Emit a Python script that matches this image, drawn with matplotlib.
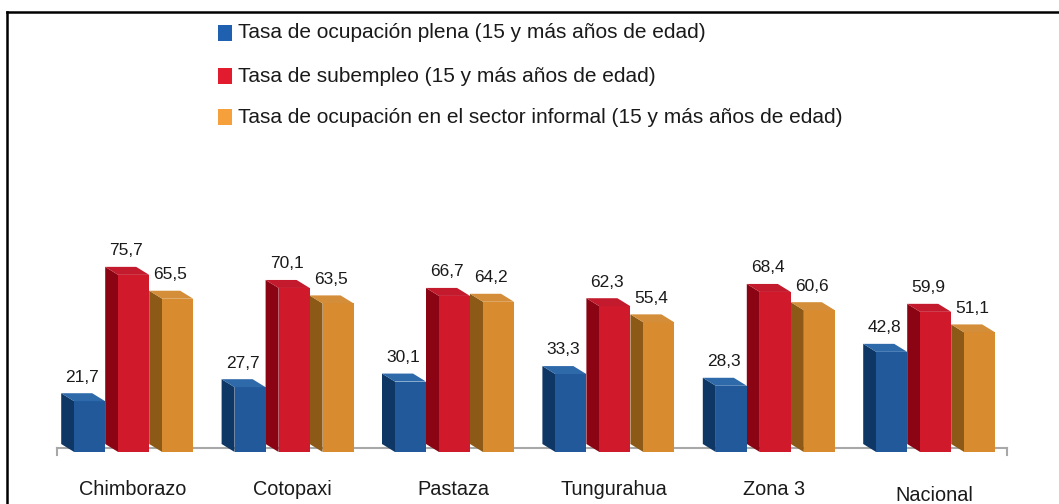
import matplotlib
matplotlib.use("Agg")
import matplotlib.pyplot as plt
from matplotlib.patches import Polygon, Rectangle
from matplotlib.lines import Line2D

plt.rcParams['font.family'] = ['Liberation Sans', 'DejaVu Sans']

# ---- data ----
categories = ["Chimborazo", "Cotopaxi", "Pastaza", "Tungurahua", "Zona 3", "Nacional"]
series_names = [
    "Tasa de ocupación plena (15 y más años de edad)",
    "Tasa de subempleo (15 y más años de edad)",
    "Tasa de ocupación en el sector informal (15 y más años de edad)",
]
plena = [21.7, 27.7, 30.1, 33.3, 28.3, 42.8]
subempleo = [75.7, 70.1, 66.7, 62.3, 68.4, 59.9]
informal = [65.5, 63.5, 64.2, 55.4, 60.6, 51.1]
series = [plena, subempleo, informal]

front_colors = ["#21599B", "#D01A2C", "#D98B30"]
side_colors = ["#0F3765", "#8A0413", "#8C5A16"]
top_colors = ["#2E69AA", "#C41A2D", "#D48D38"]
legend_colors = ["#2060B0", "#E31B2E", "#F5A03A"]

W, H = 1059, 504
fig = plt.figure(figsize=(W / 100, H / 100), dpi=100)
ax = fig.add_axes([0, 0, 1, 1])
ax.set_axis_off()

# pixel <-> data mapping
x0_px, px_per_x = 127.2, 160.4
base_px, px_per_v = 452.0, 2.34
ax.set_xlim(-x0_px / px_per_x, (W - x0_px) / px_per_x)
ax.set_ylim((base_px - H) / px_per_v, base_px / px_per_v)

slot = 44 / px_per_x
dx = 13 / px_per_x
front_w = 31 / px_per_x
dy = 8 / px_per_v

# baseline (floor)
bx0, bx1 = 57, 1007
bl_x = [(bx0 - x0_px) / px_per_x, (bx1 - x0_px) / px_per_x]
bl_y = 1.7
ax.plot(bl_x, [bl_y, bl_y], color="#A8A8A8", lw=1.5, zorder=1)
ax.plot([bl_x[0], bl_x[0]], [bl_y, bl_y - 3.0], color="#A8A8A8", lw=1.5, zorder=1)
ax.plot([bl_x[1], bl_x[1]], [bl_y, bl_y - 3.0], color="#A8A8A8", lw=1.5, zorder=1)

for gi, cat in enumerate(categories):
    for si, vals in enumerate(series):
        v = vals[gi]
        c = gi + (si - 1) * slot
        fl = c + slot / 2 - front_w
        fr = c + slot / 2
        # front face
        ax.bar(fl, v, width=front_w, align="edge", color=front_colors[si],
               edgecolor="none", zorder=3)
        # side face (left)
        side = Polygon([(fl, 0), (fl, v), (fl - dx, v + dy), (fl - dx, dy)],
                       closed=True, facecolor=side_colors[si], edgecolor="none", zorder=2)
        ax.add_patch(side)
        # top face
        top = Polygon([(fl, v), (fr, v), (fr - dx, v + dy), (fl - dx, v + dy)],
                      closed=True, facecolor=top_colors[si], edgecolor="none", zorder=3)
        ax.add_patch(top)
        # value label
        ax.text(c - 1 / px_per_x, v + 10.3, f"{v:.1f}".replace(".", ","),
                ha="center", va="center", fontsize=12.5, color="#1a1a1a", zorder=5)
    ly = -16.2 if cat != "Nacional" else -18.6
    ax.text(gi + 5 / px_per_x, ly, cat, ha="center", va="center",
            fontsize=14.3, color="#1a1a1a")

# legend drawn in figure pixel coordinates
rows_y = [33, 76, 117]
for si, name in enumerate(series_names):
    yc = rows_y[si]
    fig.patches.append(Rectangle((218 / W, 1 - (yc + 8) / H), 14 / W, 16 / H,
                                 transform=fig.transFigure, facecolor=legend_colors[si],
                                 edgecolor="none"))
    fig.text(238 / W, 1 - yc / H, name, ha="left", va="center", fontsize=15,
             color="#1a1a1a")

# frame (top and left only)
fig.add_artist(Line2D([7 / W, 1.0], [1 - 12 / H, 1 - 12 / H], transform=fig.transFigure,
                      color="black", lw=1.8))
fig.add_artist(Line2D([7 / W, 7 / W], [0, 1 - 12 / H], transform=fig.transFigure,
                      color="black", lw=1.8))

fig.savefig("out.png", dpi=100)
